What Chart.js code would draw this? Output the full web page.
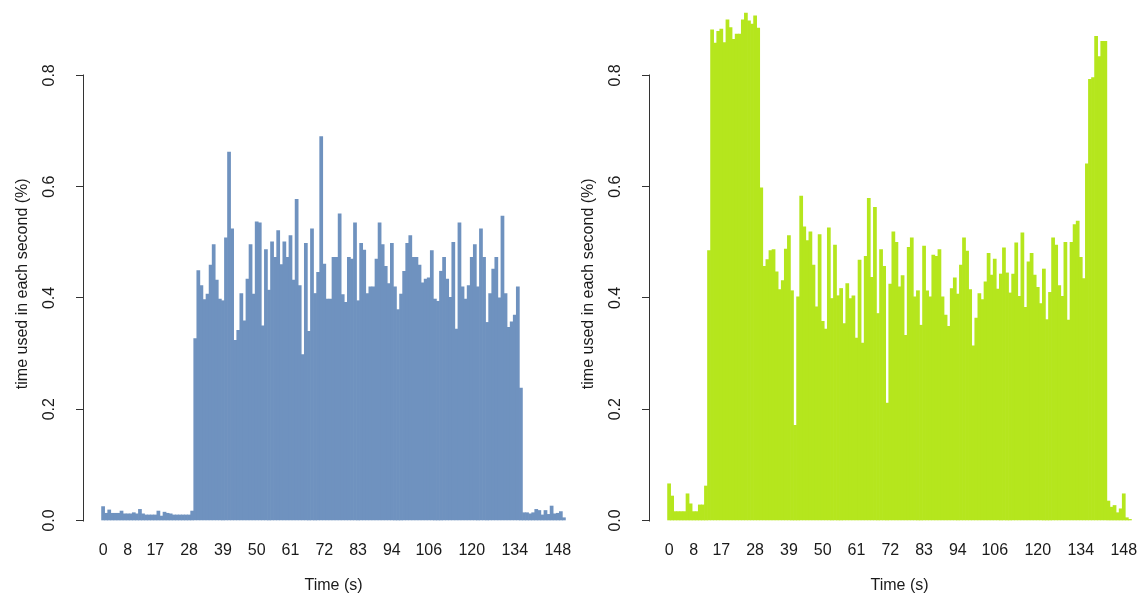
<!DOCTYPE html>
<html lang="en">
<head>
    <meta charset="UTF-8">
    <title>Time used in each second</title>
    <script src="https://cdn.jsdelivr.net/npm/chart.js"></script>
    <style>
        html, body { margin: 0; padding: 0; background: #fff; overflow: hidden; }
        .panel { position: absolute; top: 0; width: 584px; height: 595px; }
        #panelLeft { left: 0; }
        #panelRight { left: 566px; }
    </style>
</head>
<body>
    <div class="panel" id="panelLeft"><canvas id="chartLeft"></canvas></div>
    <div class="panel" id="panelRight"><canvas id="chartRight"></canvas></div>

    <script>
        // seconds 0..150, one bar each
        const seconds = [
            0, 1, 2, 3, 4, 5, 6, 7, 8, 9, 10, 11, 12, 13, 14, 15, 16, 17, 18, 19,
            20, 21, 22, 23, 24, 25, 26, 27, 28, 29, 30, 31, 32, 33, 34, 35, 36, 37, 38, 39,
            40, 41, 42, 43, 44, 45, 46, 47, 48, 49, 50, 51, 52, 53, 54, 55, 56, 57, 58, 59,
            60, 61, 62, 63, 64, 65, 66, 67, 68, 69, 70, 71, 72, 73, 74, 75, 76, 77, 78, 79,
            80, 81, 82, 83, 84, 85, 86, 87, 88, 89, 90, 91, 92, 93, 94, 95, 96, 97, 98, 99,
            100, 101, 102, 103, 104, 105, 106, 107, 108, 109, 110, 111, 112, 113, 114, 115, 116, 117, 118, 119,
            120, 121, 122, 123, 124, 125, 126, 127, 128, 129, 130, 131, 132, 133, 134, 135, 136, 137, 138, 139,
            140, 141, 142, 143, 144, 145, 146, 147, 148, 149, 150
        ];

        // left panel (blue)
        const usageBlue = [
            0.025, 0.013, 0.019, 0.013, 0.013, 0.013, 0.017, 0.012, 0.012, 0.012,
            0.014, 0.012, 0.020, 0.012, 0.010, 0.010, 0.010, 0.010, 0.017, 0.008,
            0.015, 0.013, 0.012, 0.010, 0.010, 0.010, 0.010, 0.010, 0.010, 0.017,
            0.327, 0.449, 0.422, 0.397, 0.407, 0.459, 0.496, 0.432, 0.398, 0.395,
            0.508, 0.662, 0.524, 0.324, 0.342, 0.408, 0.359, 0.434, 0.496, 0.407,
            0.537, 0.535, 0.350, 0.487, 0.414, 0.501, 0.473, 0.521, 0.460, 0.501,
            0.473, 0.512, 0.432, 0.577, 0.422, 0.298, 0.498, 0.340, 0.524, 0.408,
            0.446, 0.690, 0.461, 0.398, 0.398, 0.473, 0.473, 0.551, 0.406, 0.392,
            0.473, 0.470, 0.535, 0.395, 0.498, 0.486, 0.408, 0.420, 0.420, 0.470,
            0.535, 0.496, 0.457, 0.426, 0.498, 0.420, 0.379, 0.407, 0.448, 0.498,
            0.512, 0.473, 0.473, 0.459, 0.427, 0.434, 0.436, 0.485, 0.398, 0.394,
            0.448, 0.473, 0.434, 0.401, 0.500, 0.344, 0.535, 0.420, 0.398, 0.422,
            0.473, 0.496, 0.420, 0.524, 0.473, 0.356, 0.408, 0.452, 0.473, 0.400,
            0.547, 0.408, 0.347, 0.357, 0.369, 0.420, 0.238, 0.014, 0.014, 0.012,
            0.014, 0.020, 0.018, 0.010, 0.018, 0.011, 0.026, 0.012, 0.013, 0.016,
            0.005
        ];

        // right panel (green)
        const usageGreen = [
            0.066, 0.044, 0.016, 0.016, 0.016, 0.016, 0.048, 0.030, 0.016, 0.016,
            0.028, 0.028, 0.062, 0.485, 0.882, 0.858, 0.879, 0.883, 0.859, 0.900,
            0.886, 0.865, 0.874, 0.874, 0.900, 0.912, 0.898, 0.892, 0.907, 0.885,
            0.598, 0.457, 0.469, 0.485, 0.487, 0.447, 0.415, 0.431, 0.488, 0.512,
            0.413, 0.171, 0.402, 0.583, 0.528, 0.503, 0.519, 0.459, 0.384, 0.514,
            0.358, 0.344, 0.526, 0.399, 0.495, 0.404, 0.417, 0.354, 0.426, 0.399,
            0.404, 0.328, 0.468, 0.319, 0.475, 0.579, 0.437, 0.563, 0.372, 0.487,
            0.457, 0.211, 0.425, 0.519, 0.500, 0.420, 0.440, 0.333, 0.491, 0.508,
            0.402, 0.413, 0.351, 0.493, 0.413, 0.402, 0.477, 0.475, 0.487, 0.402,
            0.369, 0.349, 0.417, 0.436, 0.407, 0.459, 0.508, 0.484, 0.415, 0.314,
            0.364, 0.408, 0.397, 0.429, 0.480, 0.441, 0.470, 0.416, 0.443, 0.490,
            0.445, 0.409, 0.443, 0.499, 0.403, 0.517, 0.383, 0.465, 0.480, 0.441,
            0.419, 0.390, 0.452, 0.361, 0.410, 0.508, 0.495, 0.422, 0.403, 0.500,
            0.360, 0.500, 0.532, 0.538, 0.473, 0.435, 0.641, 0.793, 0.796, 0.870,
            0.834, 0.861, 0.861, 0.035, 0.024, 0.027, 0.014, 0.021, 0.048, 0.005,
            0.002
        ];

        const xTickLabels = [0, 8, 17, 28, 39, 50, 61, 72, 83, 94, 106, 120, 134, 148];
        const yTickValues = [0, 0.2, 0.4, 0.6, 0.8];

        Chart.defaults.font.family = 'Arial, "Liberation Sans", sans-serif';
        Chart.defaults.font.size = 16;
        Chart.defaults.color = '#1a1a1a';

        // axis line only between first and last tick, like base R
        const yAxisLine = {
            id: 'yAxisLine',
            afterDraw(chart) {
                const s = chart.scales.y;
                const ctx = chart.ctx;
                const x = Math.floor(s.right) + 0.5;
                ctx.save();
                ctx.strokeStyle = '#333';
                ctx.lineWidth = 1;
                ctx.beginPath();
                ctx.moveTo(x, Math.round(s.getPixelForValue(yTickValues[0])) + 0.5);
                ctx.lineTo(x, Math.round(s.getPixelForValue(yTickValues[yTickValues.length - 1])) - 0.5);
                ctx.stroke();
                ctx.restore();
            }
        };

        function dibujar(id, valores, color) {
            const pad = 6.04; // 4% axis extension on each side
            return new Chart(document.getElementById(id), {
                type: 'bar',
                data: {
                    datasets: [{
                        data: seconds.map((s, i) => ({ x: s, y: valores[i] })),
                        backgroundColor: color,
                        borderWidth: 0,
                        barPercentage: 1,
                        categoryPercentage: 1,
                        clip: false
                    }]
                },
                options: {
                    responsive: true,
                    maintainAspectRatio: false,
                    animation: false,
                    layout: { padding: { top: 47, left: 0, right: 0, bottom: 0 } },
                    plugins: { legend: { display: false }, tooltip: { enabled: false } },
                    scales: {
                        x: {
                            type: 'linear',
                            offset: false,
                            min: seconds[0] - 0.5 - pad,
                            max: seconds[seconds.length - 1] + 0.5 + pad,
                            grid: { display: false, drawTicks: false, offset: false },
                            border: { display: false },
                            afterBuildTicks: s => { s.ticks = xTickLabels.map(v => ({ value: v })); },
                            afterFit: s => { s.height = 74.5; s.paddingLeft = 0; s.paddingRight = 0; },
                            ticks: { padding: 20, autoSkip: false, maxRotation: 0, callback: v => String(v) },
                            title: { display: true, text: 'Time (s)', padding: 0 }
                        },
                        y: {
                            min: 0,
                            max: 0.851,
                            grid: { drawOnChartArea: false, drawTicks: true, tickLength: 7, color: '#333' },
                            border: { display: false },
                            afterBuildTicks: s => { s.ticks = yTickValues.map(v => ({ value: v })); },
                            afterFit: s => { s.width = 83; s.paddingTop = 0; s.paddingBottom = 0; },
                            ticks: { minRotation: 90, maxRotation: 90, crossAlign: 'center', padding: 15,
                                     callback: v => v.toFixed(1) },
                            title: { display: true, text: 'time used in each second (%)',
                                     padding: { top: 13, bottom: 0 } }
                        }
                    }
                },
                plugins: [yAxisLine]
            });
        }

        dibujar('chartLeft', usageBlue, '#6f92bf');
        dibujar('chartRight', usageGreen, '#b5e61d');
    </script>
</body>
</html>
